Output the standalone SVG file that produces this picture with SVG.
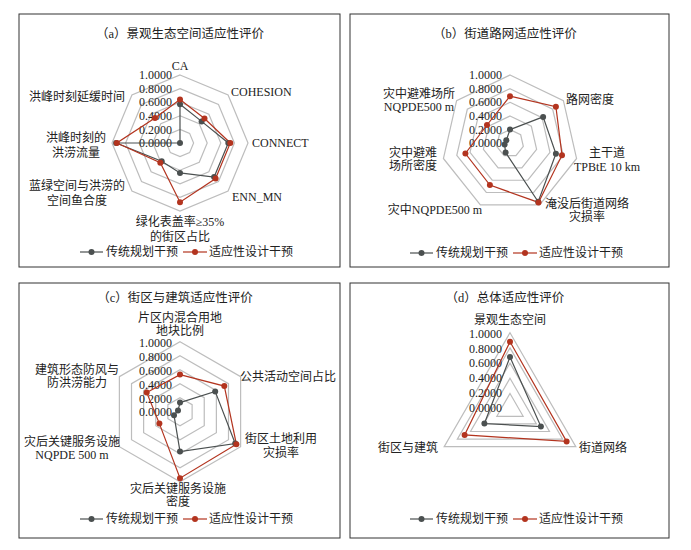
<svg xmlns="http://www.w3.org/2000/svg" xmlns:xlink="http://www.w3.org/1999/xlink" width="691" height="550" viewBox="0 0 691 550">
<style>
text{font-family:"Liberation Serif","Noto Sans CJK SC",serif;fill:#222;font-size:12px}
.ttl{font-size:12.5px;text-anchor:middle}
.m{text-anchor:middle}.e{text-anchor:end}
.tk{fill:#8a8a8a;font-size:12px;text-anchor:end}
.frame{fill:#fff;stroke:#333;stroke-width:1}
.ring{fill:none;stroke:#bdbdbd;stroke-width:1.2}
.gs{fill:none;stroke:#4b5050;stroke-width:1.2}
.rs{fill:none;stroke:#b3341f;stroke-width:1.2}
.gd{fill:#4b5050}.rd{fill:#b3341f}
</style>
<defs>
<polygon id="oct" class="ring" vector-effect="non-scaling-stroke" points="0,-1 0.7071,-0.7071 1,0 0.7071,0.7071 0,1 -0.7071,0.7071 -1,0 -0.7071,-0.7071"/>
<polygon id="hep" class="ring" vector-effect="non-scaling-stroke" points="0,-1 0.7818,-0.6235 0.9749,0.2225 0.4339,0.901 -0.4339,0.901 -0.9749,0.2225 -0.7818,-0.6235"/>
<polygon id="hex" class="ring" vector-effect="non-scaling-stroke" points="0,-1 0.866,-0.5 0.866,0.5 0,1 -0.866,0.5 -0.866,-0.5"/>
<polygon id="tri" class="ring" vector-effect="non-scaling-stroke" points="0,-1 0.866,0.5 -0.866,0.5"/>
<g id="leg">
<line x1="0" y1="0" x2="23" y2="0" class="gs"/><circle cx="11.5" cy="0" r="3" class="gd"/>
<text x="26" y="4">传统规划干预</text>
<line x1="103" y1="0" x2="127" y2="0" class="rs"/><circle cx="115" cy="0" r="3" class="rd"/>
<text x="129" y="4">适应性设计干预</text>
</g>
</defs>

<g id="panel-a">
<rect class="frame" x="19" y="14" width="321" height="253"/>
<text class="ttl" x="180" y="38">（a）景观生态空间适应性评价</text>
<g transform="translate(180,143)">
<use xlink:href="#oct" transform="scale(13.6)"/><use xlink:href="#oct" transform="scale(27.2)"/><use xlink:href="#oct" transform="scale(40.8)"/><use xlink:href="#oct" transform="scale(54.4)"/><use xlink:href="#oct" transform="scale(68)"/>
</g>
<g class="tk"><text x="172" y="79">1.0000</text><text x="172" y="93">0.8000</text><text x="172" y="106">0.6000</text><text x="172" y="120">0.4000</text><text x="172" y="134">0.2000</text><text x="172" y="147">0.0000</text></g>
<text class="m" x="180" y="70">CA</text>
<text x="231" y="96">COHESION</text>
<text x="252" y="147">CONNECT</text>
<text x="232" y="201">ENN_MN</text>
<text class="m" x="180" y="226">绿化表盖率≥35%</text><text class="m" x="180" y="241">的街区占比</text>
<text class="m" x="77" y="190">蓝绿空间与洪涝的</text><text class="m" x="77" y="205">空间鱼合度</text>
<text class="m" x="76" y="142">洪峰时刻的</text><text class="m" x="76" y="157">洪涝流量</text>
<text class="e" x="125" y="101">洪峰时刻延缓时间</text>
<use xlink:href="#leg" x="80" y="252"/>
</g>

<g id="panel-b">
<rect class="frame" x="350" y="14" width="319" height="253"/>
<text class="ttl" x="505" y="38">（b）街道路网适应性评价</text>
<g transform="translate(510,143.3)">
<use xlink:href="#hep" transform="scale(13.66)"/><use xlink:href="#hep" transform="scale(27.3)"/><use xlink:href="#hep" transform="scale(41)"/><use xlink:href="#hep" transform="scale(54.6)"/><use xlink:href="#hep" transform="scale(68.3)"/>
</g>
<g class="tk"><text x="502" y="79">1.0000</text><text x="502" y="93">0.8000</text><text x="502" y="106">0.6000</text><text x="502" y="120">0.4000</text><text x="502" y="134">0.2000</text><text x="502" y="147">0.0000</text></g>
<text x="566" y="104">路网密度</text>
<text class="m" x="607" y="157">主干道</text><text class="m" x="607" y="171">TPBtE 10 km</text>
<text class="m" x="587" y="208">淹没后街道网络</text><text class="m" x="587" y="221">灾损率</text>
<text class="m" x="435" y="214">灾中NQPDE500 m</text>
<text class="m" x="413" y="157">灾中避难</text><text class="m" x="413" y="170">场所密度</text>
<text class="m" x="419" y="98">灾中避难场所</text><text class="m" x="419" y="111">NQPDE500 m</text>
<use xlink:href="#leg" x="410" y="253"/>
</g>

<g id="panel-c">
<rect class="frame" x="19" y="283" width="321" height="255"/>
<text class="ttl" x="175" y="302">（c）街区与建筑适应性评价</text>
<g transform="translate(180,411.7)">
<use xlink:href="#hex" transform="scale(14)"/><use xlink:href="#hex" transform="scale(28)"/><use xlink:href="#hex" transform="scale(42)"/><use xlink:href="#hex" transform="scale(56)"/><use xlink:href="#hex" transform="scale(70)"/>
</g>
<g class="tk"><text x="172" y="347">1.0000</text><text x="172" y="361">0.8000</text><text x="172" y="375">0.6000</text><text x="172" y="389">0.4000</text><text x="172" y="403">0.2000</text><text x="172" y="416">0.0000</text></g>
<text class="m" x="180" y="322">片区内混合用地</text><text class="m" x="180" y="335">地块比例</text>
<text x="240" y="381">公共活动空间占比</text>
<text class="m" x="281" y="443">街区土地利用</text><text class="m" x="281" y="457">灾损率</text>
<text class="m" x="178" y="493">灾后关键服务设施</text><text class="m" x="178" y="506">密度</text>
<text class="m" x="72" y="446">灾后关键服务设施</text><text class="m" x="72" y="459">NQPDE 500 m</text>
<text class="m" x="77" y="374">建筑形态防风与</text><text class="m" x="77" y="387">防洪涝能力</text>
<use xlink:href="#leg" x="80" y="519"/>
</g>

<g id="panel-d">
<rect class="frame" x="350" y="283" width="319" height="255"/>
<text class="ttl" x="505" y="302">（d）总体适应性评价</text>
<g transform="translate(510,408.7)">
<use xlink:href="#tri" transform="scale(15.2)"/><use xlink:href="#tri" transform="scale(30.4)"/><use xlink:href="#tri" transform="scale(45.6)"/><use xlink:href="#tri" transform="scale(60.8)"/><use xlink:href="#tri" transform="scale(76)"/>
</g>
<g class="tk"><text x="502" y="338">1.0000</text><text x="502" y="353">0.8000</text><text x="502" y="367">0.6000</text><text x="502" y="382">0.4000</text><text x="502" y="397">0.2000</text><text x="502" y="412">0.0000</text></g>
<text class="m" x="510" y="324">景观生态空间</text>
<text class="e" x="438" y="452">街区与建筑</text>
<text x="579" y="452">街道网络</text>
<use xlink:href="#leg" x="410" y="519"/>
</g>

<g id="connectors">
<g transform="translate(180,143)">
<polygon class="gs" points="0,-38.8 21.6,-21.6 48.3,0 34.1,34.1 0,29.9 -18.3,18.3 -63.9,0 0,0"/>
<polygon class="rs" points="0,-43.5 24.5,-24.5 50.3,0 35.6,35.6 0,59.2 -19.7,19.7 -63.2,0 -25,-25"/>
<g class="gd"><circle cx="0" cy="-38.8" r="3"/><circle cx="21.6" cy="-21.6" r="3"/><circle cx="48.3" cy="0" r="3"/><circle cx="34.1" cy="34.1" r="3"/><circle cx="0" cy="29.9" r="3"/><circle cx="-18.3" cy="18.3" r="3"/><circle cx="-63.9" cy="0" r="3"/><circle cx="0" cy="0" r="3"/></g>
<g class="rd"><circle cx="0" cy="-43.5" r="3"/><circle cx="24.5" cy="-24.5" r="3"/><circle cx="50.3" cy="0" r="3"/><circle cx="35.6" cy="35.6" r="3"/><circle cx="0" cy="59.2" r="3"/><circle cx="-19.7" cy="19.7" r="3"/><circle cx="-63.2" cy="0" r="3"/><circle cx="-25" cy="-25" r="3"/></g>
</g>
<g transform="translate(510,143.3)">
<polygon class="gs" points="0,-13.7 33.1,-26.4 45.9,10.5 28.2,58.5 -4.4,9.2 -5.4,1.2 -3.7,-3"/>
<polygon class="rs" points="0,-47.1 45.9,-36.6 52,11.9 28.5,59.1 -20.1,41.8 -44.6,10.2 -23,-18.3"/>
<g class="gd"><circle cx="0" cy="-13.7" r="3"/><circle cx="33.1" cy="-26.4" r="3"/><circle cx="45.9" cy="10.5" r="3"/><circle cx="28.2" cy="58.5" r="3"/><circle cx="-4.4" cy="9.2" r="3"/><circle cx="-5.4" cy="1.2" r="3"/><circle cx="-3.7" cy="-3" r="3"/></g>
<g class="rd"><circle cx="0" cy="-47.1" r="3"/><circle cx="45.9" cy="-36.6" r="3"/><circle cx="52" cy="11.9" r="3"/><circle cx="28.5" cy="59.1" r="3"/><circle cx="-20.1" cy="41.8" r="3"/><circle cx="-44.6" cy="10.2" r="3"/><circle cx="-23" cy="-18.3" r="3"/></g>
</g>
<g transform="translate(180,411.7)">
<polygon class="gs" points="0,-9.1 35.2,-20.3 55.2,31.9 0,39.9 -6,3.5 -2,-1.2"/>
<polygon class="rs" points="0,-37.1 44.3,-25.6 56.4,32.6 0,66.5 -20.6,11.9 -33.3,-19.3"/>
<g class="gd"><circle cx="0" cy="-9.1" r="3"/><circle cx="35.2" cy="-20.3" r="3"/><circle cx="55.2" cy="31.9" r="3"/><circle cx="0" cy="39.9" r="3"/><circle cx="-6" cy="3.5" r="3"/><circle cx="-2" cy="-1.2" r="3"/></g>
<g class="rd"><circle cx="0" cy="-37.1" r="3"/><circle cx="44.3" cy="-25.6" r="3"/><circle cx="56.4" cy="32.6" r="3"/><circle cx="0" cy="66.5" r="3"/><circle cx="-20.6" cy="11.9" r="3"/><circle cx="-33.3" cy="-19.3" r="3"/></g>
</g>
<g transform="translate(510,408.7)">
<polygon class="gs" points="0,-51.7 30.9,17.9 -25.6,14.8"/>
<polygon class="rs" points="0,-66.9 56.6,32.7 -45.4,26.2"/>
<g class="gd"><circle cx="0" cy="-51.7" r="3"/><circle cx="30.9" cy="17.9" r="3"/><circle cx="-25.6" cy="14.8" r="3"/></g>
<g class="rd"><circle cx="0" cy="-66.9" r="3"/><circle cx="56.6" cy="32.7" r="3"/><circle cx="-45.4" cy="26.2" r="3"/></g>
</g>
</g>
</svg>
